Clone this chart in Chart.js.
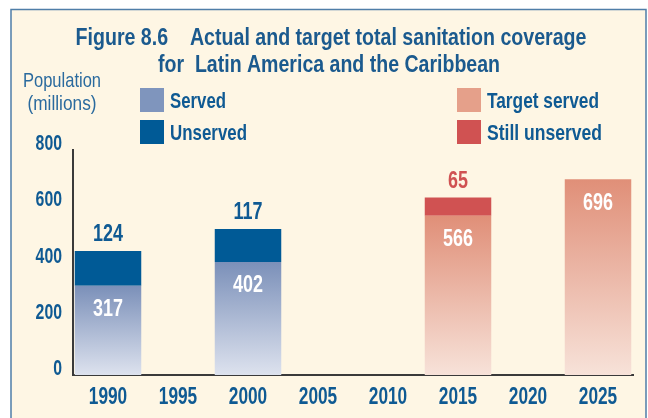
<!DOCTYPE html>
<html>
<head>
<meta charset="utf-8">
<script src="https://cdn.jsdelivr.net/npm/chart.js@4.4.0/dist/chart.umd.min.js"></script>
<style>
  html, body { margin: 0; padding: 0; background: #ffffff; }
  #wrap { width: 648px; height: 418px; position: relative; }
</style>
</head>
<body>
<div id="wrap"><canvas id="sanitationChart" width="648" height="418"></canvas></div>
<script>
// DATA
const years = ['1990', '1995', '2000', '2005', '2010', '2015', '2020', '2025'];
const served = [317, null, 402, null, null, null, null, null];
const unserved = [124, null, 117, null, null, null, null, null];
const targetServed = [null, null, null, null, null, 566, null, 696];
const stillUnserved = [null, null, null, null, null, 65, null, null];
const yTicks = [0, 200, 400, 600, 800];

const titleLines = ['Figure 8.6    Actual and target total sanitation coverage', 'for  Latin America and the Caribbean'];
const legendLabels = ['Served', 'Unserved', 'Target served', 'Still unserved'];

const BLUE_TEXT = '#0f5a93';
const FONT = '"Liberation Sans", Arial, sans-serif';

// the original uses a condensed face, so text is squeezed sideways
const drawNarrow = (ctx, text, x, y, squeeze) => {
    ctx.save();
    ctx.translate(x, y);
    ctx.scale(squeeze, 1);
    ctx.fillText(text, 0, 0);
    ctx.restore();
};

// gradient fill from the bar top down to the baseline
const gradientFill = (top, bottom, fallback) => (c) => {
    const chart = c.chart;
    const area = chart.chartArea;
    if (!area || c.raw == null) return fallback;
    const y = chart.scales.y;
    const g = chart.ctx.createLinearGradient(0, y.getPixelForValue(c.raw), 0, y.getPixelForValue(0));
    g.addColorStop(0, top);
    g.addColorStop(1, bottom);
    return g;
};

const legendColors = ['#7f95bd', '#005a96', '#e5a08a', '#d05252'];

// frame, titles, legend, tick labels, value labels
const decorations = {
    id: 'decorations',
    beforeDraw(chart) {
        const ctx = chart.ctx;
        ctx.save();
        ctx.fillStyle = '#fef6e4';
        ctx.fillRect(11, 9, 635, 418);
        ctx.strokeStyle = '#4f7ea8';
        ctx.lineWidth = 1.5;
        ctx.beginPath();
        ctx.moveTo(11, 418); ctx.lineTo(11, 9.5); ctx.lineTo(646, 9.5); ctx.lineTo(646, 418);
        ctx.stroke();

        ctx.fillStyle = '#1b5a8e';
        ctx.textAlign = 'center';
        ctx.textBaseline = 'alphabetic';
        ctx.font = 'bold 24px ' + FONT;
        ctx.fillText(titleLines[0], 331, 45, 511);
        ctx.fillText(titleLines[1], 329, 72, 342);

        ctx.fillStyle = '#2a6a9e';
        ctx.font = '21px ' + FONT;
        ctx.fillText('Population', 62, 87, 78);
        ctx.fillText('(millions)', 62, 110, 69);

        const pos = [[140, 88], [140, 120], [457, 88], [457, 120]];
        const widths = [56, 77, 112, 115];
        ctx.textAlign = 'left';
        ctx.font = 'bold 22px ' + FONT;
        legendLabels.forEach((lbl, i) => {
            ctx.fillStyle = legendColors[i];
            ctx.fillRect(pos[i][0], pos[i][1], 24, 24);
            ctx.fillStyle = BLUE_TEXT;
            ctx.fillText(lbl, pos[i][0] + 30, pos[i][1] + 20, widths[i]);
        });
        ctx.restore();
    },
    afterDraw(chart) {
        const ctx = chart.ctx;
        const xs = chart.scales.x, ys = chart.scales.y;
        ctx.save();
        ctx.fillStyle = BLUE_TEXT;
        ctx.textBaseline = 'middle';
        ctx.font = 'bold 22px ' + FONT;
        ctx.textAlign = 'right';
        yTicks.forEach(v => drawNarrow(ctx, String(v), 62, ys.getPixelForValue(v) - 6, 0.72));
        ctx.textAlign = 'center';
        ctx.font = 'bold 24px ' + FONT;
        years.forEach((yr, i) => drawNarrow(ctx, yr, xs.getPixelForValue(i), 397, 0.72));
        ctx.restore();
    },
    afterDatasetsDraw(chart) {
        const ctx = chart.ctx;
        ctx.save();
        ctx.textAlign = 'center';
        ctx.textBaseline = 'middle';
        ctx.font = 'bold 23px ' + FONT;
        chart.data.datasets.forEach((ds, i) => {
            const meta = chart.getDatasetMeta(i);
            meta.data.forEach((bar, j) => {
                const v = ds.data[j];
                if (v == null) return;
                if (ds.inside) {
                    ctx.fillStyle = '#ffffff';
                    drawNarrow(ctx, String(v), bar.x, bar.y + 24, 0.78);
                } else {
                    ctx.fillStyle = ds.labelColor;
                    drawNarrow(ctx, String(v), bar.x, bar.y - 16, 0.78);
                }
            });
        });
        ctx.restore();
    }
};

const ctx = document.getElementById('sanitationChart').getContext('2d');

const chart = new Chart(ctx, {
    type: 'bar',
    data: {
        labels: years,
        datasets: [{
            label: 'Served',
            data: served,
            inside: true,
            backgroundColor: gradientFill('#7b90b9', '#dde2ee', legendColors[0])
        }, {
            label: 'Unserved',
            data: unserved,
            labelColor: BLUE_TEXT,
            backgroundColor: legendColors[1]
        }, {
            label: 'Target served',
            data: targetServed,
            inside: true,
            backgroundColor: gradientFill('#e08f78', '#f7e2d9', legendColors[2])
        }, {
            label: 'Still unserved',
            data: stillUnserved,
            labelColor: '#d05252',
            backgroundColor: legendColors[3]
        }]
    },
    options: {
        responsive: false,
        animation: false,
        layout: { padding: { left: 0, top: 150, right: 15, bottom: 0 } },
        datasets: { bar: { barPercentage: 0.95, categoryPercentage: 1 } },
        plugins: {
            legend: { display: false },
            title: { display: false },
            tooltip: { enabled: false }
        },
        scales: {
            x: {
                stacked: true,
                grid: { display: false },
                border: { display: true, color: '#3a3a3a', width: 2 },
                ticks: { display: false },
                afterFit: (axis) => { axis.height = 43; }
            },
            y: {
                stacked: true,
                min: 0,
                max: 800,
                grid: { display: false },
                border: { display: true, color: '#3a3a3a', width: 2 },
                afterBuildTicks: (axis) => { axis.ticks = yTicks.map(v => ({ value: v })); },
                ticks: { display: false },
                afterFit: (axis) => { axis.width = 73; }
            }
        }
    },
    plugins: [decorations]
});
</script>
</body>
</html>
